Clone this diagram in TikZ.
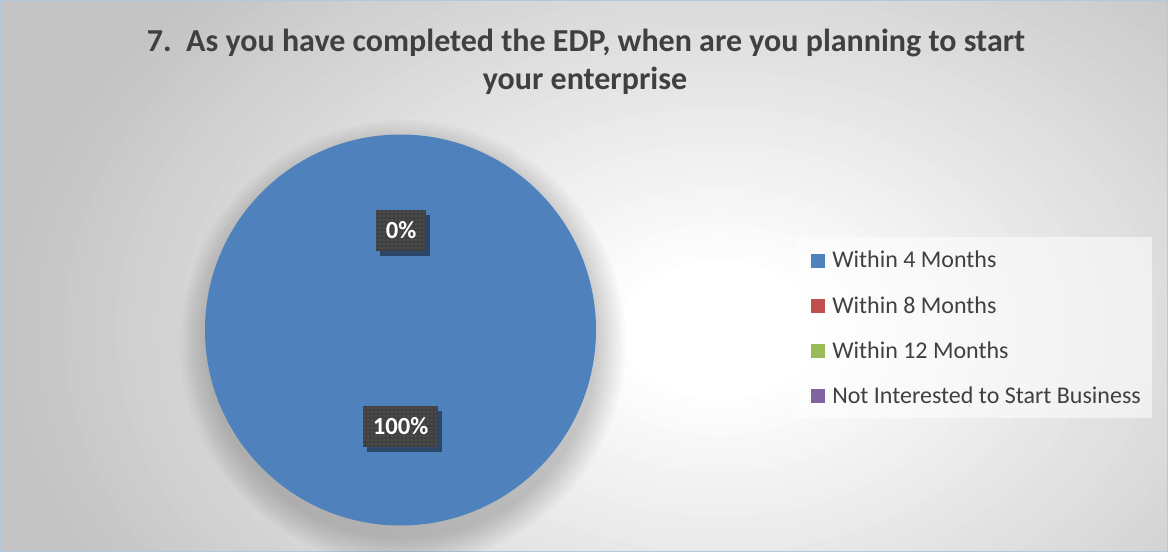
\documentclass[tikz,border=0pt]{standalone}
\usepackage{fontspec}
\setmainfont{Carlito}
\usetikzlibrary{patterns,shadows}
\definecolor{titlegray}{HTML}{404040}
\definecolor{legendgray}{HTML}{404040}
\definecolor{labelgray}{HTML}{404040}
\definecolor{sblue}{HTML}{4F81BD}
\definecolor{sred}{HTML}{C0504D}
\definecolor{sgreen}{HTML}{9BBB59}
\definecolor{spurple}{HTML}{8064A2}
\definecolor{bordercol}{HTML}{B4C8E6}
\definecolor{bgedge}{RGB}{196,196,196}
\tikzset{
  titletext/.style={text=titlegray, font=\bfseries\fontsize{24pt}{28pt}\selectfont, inner sep=0pt, anchor=base},
  legtext/.style={text=legendgray, font=\fontsize{18pt}{20pt}\selectfont, inner sep=0pt, anchor=base west},
  legbox/.style={fill=white, fill opacity=0.55, minimum width=265.5pt, minimum height=135.75pt, inner sep=0pt},
  datalabel/.style={fill=labelgray, text=white, font=\bfseries\fontsize{18.5pt}{20pt}\selectfont,
    minimum height=30.75pt, inner xsep=7.5pt, inner ysep=0pt,
    drop shadow={shadow xshift=3pt, shadow yshift=-3.5pt, opacity=0.45, fill=black},
    postaction={pattern=dots, pattern color=labelgray!70!white}},
  shadowring/.style={fill=black, fill opacity=0.016},
}
\begin{document}
\begin{tikzpicture}[x=0.75pt,y=-0.75pt]
\useasboundingbox (0,0) rectangle (1168,552);
% background: stepped radial gradient
\begin{scope}
\clip (0,0) rectangle (1168,552);
\fill[bgedge] (0,0) rectangle (1168,552);
\foreach \i in {0,...,48}{
  \pgfmathsetmacro{\t}{\i/48}
  \pgfmathsetmacro{\rx}{720*(1-0.86*\t)}
  \pgfmathsetmacro{\ry}{500*(1-0.86*\t)}
  \pgfmathtruncatemacro{\g}{196+59*\t}
  \definecolor{bgstep}{RGB}{\g,\g,\g}
  \fill[bgstep] (720,330) ellipse [x radius=\rx, y radius=\ry];
}
\end{scope}
\draw[bordercol, line width=0.75pt] (0.5,0.5) rectangle (1167.5,551.5);
% title
\node[titletext] (title1) at (586,52) {7.\ \ As you have completed the EDP, when are you planning to start};
\node[titletext] (title2) at (585,89.5) {your enterprise};
% pie shadow and pie
\foreach \k in {1,...,12}{
  \fill[shadowring] (403,343) circle ({193+2.5*\k});
}
\fill[sblue] (400.5,330) circle (195.5);
% data labels
\node[datalabel] (lbl0) at (401,230.5) {0\%};
\node[datalabel] (lbl100) at (400.5,426.5) {100\%};
% legend
\node[legbox] (legend) at (975,327.5) {};
\fill[sblue] (811,254) rectangle (825,268);
\node[legtext] (leg1) at (832,268) {Within 4 Months};
\fill[sred] (811,299.3) rectangle (825,313.3);
\node[legtext] (leg2) at (832,313.3) {Within 8 Months};
\fill[sgreen] (811,344.3) rectangle (825,358.3);
\node[legtext] (leg3) at (832,358.3) {Within 12 Months};
\fill[spurple] (811,389) rectangle (825,403);
\node[legtext] (leg4) at (832,403) {Not Interested to Start Business};
\end{tikzpicture}
\end{document}
